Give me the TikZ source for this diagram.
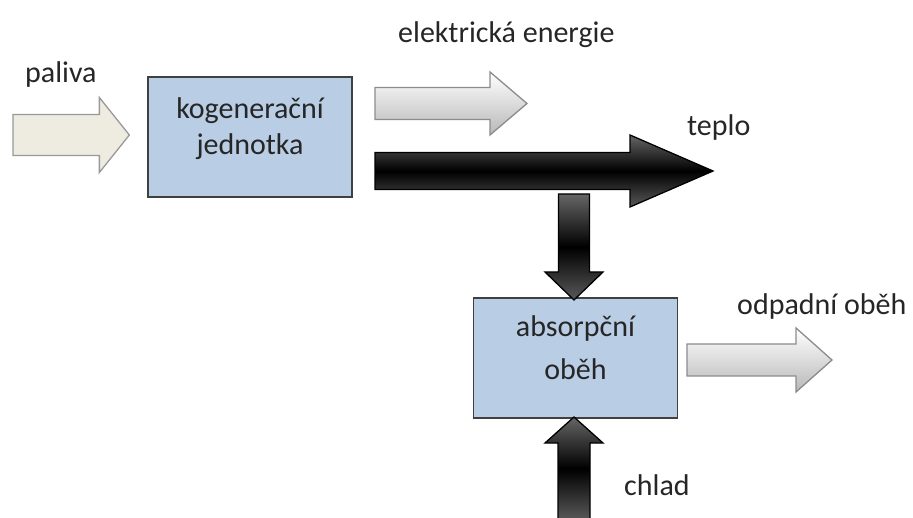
\documentclass[tikz,border=0pt]{standalone}
\usepackage{fontspec}
\setmainfont{Carlito}
\usetikzlibrary{calc}

\definecolor{unitblue}{RGB}{185,205,229}
\definecolor{fuelbeige}{RGB}{238,236,225}
\definecolor{textgray}{RGB}{38,38,38}

% block arrow: style, from, to, shaft half width, head half width, head length
\newcommand{\flow}[6][]{%
  \coordinate (fb) at ($(#3)!#6pt!(#2)$);
  \draw[#1] ($(#2)!#4pt!90:(#3)$) -- ($(fb)!#4pt!90:(#3)$) -- ($(fb)!#5pt!90:(#3)$)
    -- (#3) -- ($(fb)!#5pt!-90:(#3)$) -- ($(fb)!#4pt!-90:(#3)$)
    -- ($(#2)!#4pt!-90:(#3)$) -- cycle;}

\tikzset{
  unit/.style={rectangle,draw=black!75,line width=1.3pt,fill=unitblue,
    minimum width=204pt,minimum height=120pt,align=center,text=textgray,
    font=\fontsize{30}{36}\selectfont,text height=58pt,text depth=22pt},
  tag/.style={anchor=base west,inner sep=0pt,text=textgray,
    font=\fontsize{30}{36}\selectfont},
  fuel/.style={draw=black!40,line width=1.3pt,fill=fuelbeige},
  light/.style={draw=black!45,line width=1.3pt,top color=white,bottom color=black!28},
  dark/.style={draw=black,line width=1.3pt,top color=black!60,bottom color=black!65,
    middle color=black}
}

\begin{document}
\begin{tikzpicture}[x=1pt,y=-1pt]
\clip (0,0) rectangle (913,518);
\fill[white] (0,0) rectangle (913,518);

% units
\node[unit] (kj) at (250,137) {kogenerační\\jednotka};
\node[unit,text height=65pt] (ao) at (575.5,358) {absorpční\\[7pt]oběh};

% arrow ends
\coordinate (fuel0) at (13,135);
\coordinate (fuel1) at ($(kj.west)+(-18,-2)$);
\coordinate (el0) at (375,103.5);
\coordinate (el1) at (527,103.5);
\coordinate (heat0) at (375,171);
\coordinate (heat1) at (713,171);
\coordinate (down0) at (574,194);
\coordinate (down1) at (574,300);
\coordinate (cool0) at (574,520);
\coordinate (cool1) at (574,417);
\coordinate (waste0) at (687,360);
\coordinate (waste1) at (832,360);

\flow[fuel]{fuel0}{fuel1}{20.5}{37.5}{30}
\flow[light]{el0}{el1}{16}{31.5}{37}
\flow[dark]{heat0}{heat1}{18.5}{36}{83}
\flow[dark]{down0}{down1}{15.5}{29}{28}
\flow[dark]{cool0}{cool1}{16}{29}{26}
\flow[light]{waste0}{waste1}{16}{32}{36}

% labels
\node[tag] (fuelL) at (25,83) {paliva};
\node[tag] (elL) at (398,43) {elektrická energie};
\node[tag] (heatL) at (687,136) {teplo};
\node[tag] (wasteL) at (737,315) {odpadní oběh};
\node[tag] (coolL) at (624,495) {chlad};
\end{tikzpicture}
\end{document}
